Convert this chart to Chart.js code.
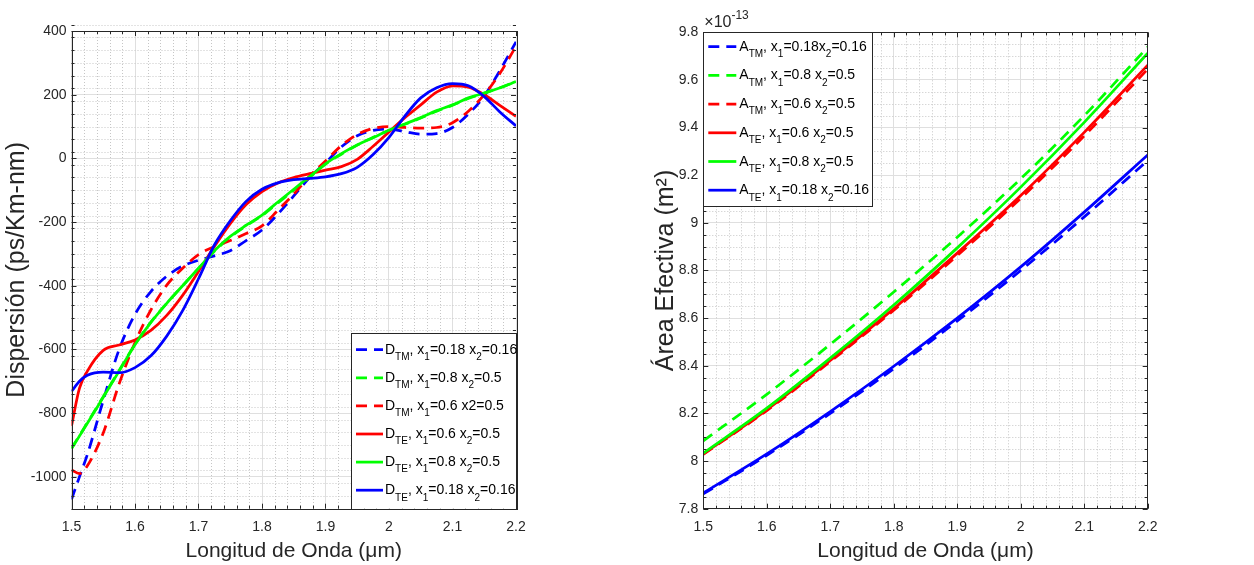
<!DOCTYPE html>
<html lang="es">
<head>
<meta charset="utf-8">
<title>Dispersión y Área Efectiva</title>
<script src="https://cdn.jsdelivr.net/npm/chart.js@4.4.0/dist/chart.umd.min.js"></script>
<style>
  html, body { margin: 0; padding: 0; background: #fff; }
  #wrap { position: relative; width: 1254px; height: 565px; overflow: hidden; }
  canvas { position: absolute; top: 0; }
  #cDisp { left: 0; }
  #cArea { left: 640px; }
</style>
</head>
<body>
<div id="wrap">
  <canvas id="cDisp" width="640" height="565"></canvas>
  <canvas id="cArea" width="614" height="565"></canvas>
</div>
<script>
const FONT = '"Liberation Sans", Arial, Helvetica, sans-serif';
const AXIS_COLOR = '#262626';
const BLUE = '#0000ff', GREEN = '#00ff00', RED = '#ff0000';
const DASH = [11, 7];

// Dispersion, ps/(km nm), vs wavelength in um
const lambdaD = [1.5, 1.5125, 1.525, 1.55, 1.575, 1.6, 1.625, 1.65, 1.675, 1.7, 1.725, 1.75, 1.775, 1.8, 1.825,
                 1.85, 1.875, 1.9, 1.925, 1.95, 1.975, 2.0, 2.025, 2.05, 2.075, 2.1, 2.125, 2.15, 2.175, 2.2];
const dTM_018 = [-1071, -1000, -930, -760, -600, -490, -418, -370, -338, -320, -306, -290, -258, -225, -175,
                 -118, -60, -14, 36, 71, 88, 92, 84, 76, 78, 97, 139, 196, 277, 366];
const dTM_08  = [-910, -870, -830, -748, -666, -584, -514, -455, -400, -346, -292, -247, -212, -180, -140,
                 -100, -60, -18, 13, 42, 66, 88, 107, 127, 148, 167, 188, 205, 222, 242];
const dTM_06  = [-978, -990, -965, -862, -708, -578, -476, -398, -345, -302, -277, -258, -236, -212, -163,
                 -112, -56, -8, 40, 75, 94, 100, 97, 95, 97, 112, 148, 200, 268, 352];
const dTE_06  = [-840, -722, -668, -603, -586, -570, -540, -493, -430, -355, -277, -205, -145, -104, -77,
                 -60, -48, -37, -26, -3, 38, 83, 128, 168, 208, 228, 224, 200, 166, 132];
const dTE_08  = [-912, -872, -832, -750, -668, -585, -515, -455, -400, -345, -290, -245, -210, -178, -137,
                 -97, -57, -17, 15, 42, 65, 88, 108, 128, 150, 168, 190, 205, 222, 241];
const dTE_018 = [-732, -700, -681, -671, -673, -657, -620, -558, -478, -378, -272, -196, -135, -97, -77,
                 -67, -63, -58, -48, -28, 12, 66, 133, 190, 222, 235, 228, 194, 145, 102];

// Effective area in units of 1e-13 m^2
const lambdaA = [1.5, 1.6, 1.7, 1.8, 1.9, 2.0, 2.1, 2.2];
const aTM_018 = [7.862, 8.024, 8.200, 8.388, 8.588, 8.800, 9.025, 9.262];
const aTM_08  = [8.085, 8.280, 8.490, 8.710, 8.940, 9.185, 9.450, 9.738];
const aTM_06  = [8.028, 8.212, 8.418, 8.633, 8.863, 9.103, 9.365, 9.645];
const aTE_06  = [8.030, 8.215, 8.422, 8.640, 8.873, 9.115, 9.380, 9.662];
const aTE_08  = [8.033, 8.222, 8.432, 8.655, 8.895, 9.150, 9.422, 9.712];
const aTE_018 = [7.866, 8.030, 8.208, 8.398, 8.600, 8.815, 9.045, 9.285];

// tick labels
const xTicks = [1.5, 1.6, 1.7, 1.8, 1.9, 2.0, 2.1, 2.2];
const dispTicks = [-1000, -800, -600, -400, -200, 0, 200, 400];
const areaTicks = [7.8, 8.0, 8.2, 8.4, 8.6, 8.8, 9.0, 9.2, 9.4, 9.6, 9.8];

function pts(xs, ys) {
    return xs.map((x, i) => ({ x: x, y: ys[i] }));
}

// evenly spaced minor positions between min and max, skipping the majors
function minorValues(min, max, step, majors) {
    const out = [];
    const n = Math.round((max - min) / step);
    for (let i = 0; i <= n; i++) {
        const v = +(min + i * step).toFixed(6);
        if (!majors.some(m => Math.abs(m - v) < 1e-9)) out.push(v);
    }
    return out;
}

function series(label, xs, ys, color, dashed, order) {
    return {
        label: label,
        data: pts(xs, ys),
        borderColor: color,
        backgroundColor: color,
        borderWidth: 2.75,
        borderDash: dashed ? DASH : [],
        pointRadius: 0,
        cubicInterpolationMode: 'monotone',
        order: order
    };
}

// "_{..}" subscript and "^{..}" superscript pieces
function texSegments(s) {
    const out = [];
    const re = /_\{([^}]*)\}|\^\{([^}]*)\}|([^_^]+)/g;
    let m;
    while ((m = re.exec(s))) {
        if (m[1] !== undefined) out.push({ t: m[1], s: 1 });
        else if (m[2] !== undefined) out.push({ t: m[2], s: -1 });
        else out.push({ t: m[3], s: 0 });
    }
    return out;
}

function drawTex(ctx, s, x, y, size, color) {
    ctx.fillStyle = color;
    ctx.textBaseline = 'alphabetic';
    ctx.textAlign = 'left';
    texSegments(s).forEach(seg => {
        const fs = seg.s ? Math.round(size * 0.72) : size;
        ctx.font = fs + 'px ' + FONT;
        const dy = seg.s === 1 ? size * 0.45 : (seg.s === -1 ? -size * 0.55 : 0);
        ctx.fillText(seg.t, x, y + dy);
        x += ctx.measureText(seg.t).width;
    });
    return x;
}

// dotted minor grid, inward ticks on all four sides and the closed box
const matlabAxes = {
    id: 'matlabAxes',
    beforeDatasetsDraw(chart, args, opts) {
        const { ctx, chartArea: a, scales: { x, y } } = chart;
        ctx.save();
        ctx.strokeStyle = '#c6c6c6';
        ctx.lineWidth = 1;
        ctx.setLineDash([1, 2]);
        ctx.beginPath();
        opts.xMinor.forEach(v => {
            const px = Math.round(x.getPixelForValue(v)) + 0.5;
            ctx.moveTo(px, a.top);
            ctx.lineTo(px, a.bottom);
        });
        opts.yMinor.forEach(v => {
            const py = Math.round(y.getPixelForValue(v)) + 0.5;
            ctx.moveTo(a.left, py);
            ctx.lineTo(a.right, py);
        });
        ctx.stroke();
        ctx.restore();
    },
    afterDatasetsDraw(chart, args, opts) {
        const { ctx, chartArea: a, scales: { x, y } } = chart;
        ctx.save();
        ctx.strokeStyle = AXIS_COLOR;
        ctx.lineWidth = 1;
        ctx.beginPath();
        const xs = opts.xMinor.map(v => [v, 3]).concat(opts.xMajor.map(v => [v, 5]));
        const ys = opts.yMinor.map(v => [v, 3]).concat(opts.yMajor.map(v => [v, 5]));
        xs.forEach(([v, len]) => {
            const px = Math.round(x.getPixelForValue(v)) + 0.5;
            ctx.moveTo(px, a.bottom); ctx.lineTo(px, a.bottom - len);
            ctx.moveTo(px, a.top); ctx.lineTo(px, a.top + len);
        });
        ys.forEach(([v, len]) => {
            const py = Math.round(y.getPixelForValue(v)) + 0.5;
            ctx.moveTo(a.left, py); ctx.lineTo(a.left + len, py);
            ctx.moveTo(a.right, py); ctx.lineTo(a.right - len, py);
        });
        ctx.stroke();
        ctx.strokeRect(Math.round(a.left) + 0.5, Math.round(a.top) + 0.5,
                       Math.round(a.right - a.left), Math.round(a.bottom - a.top));
        ctx.restore();
    }
};

// boxed legend with sub/superscripts drawn inside the plot area
const texLegend = {
    id: 'texLegend',
    afterDraw(chart, args, opts) {
        const { ctx, chartArea: a } = chart;
        const left = opts.corner === 'br' ? a.right - opts.width : a.left;
        const top = opts.corner === 'br' ? a.bottom - opts.height : a.top;
        ctx.save();
        ctx.fillStyle = '#ffffff';
        ctx.fillRect(left, top, opts.width, opts.height);
        ctx.strokeStyle = AXIS_COLOR;
        ctx.lineWidth = 1;
        ctx.strokeRect(Math.round(left) + 0.5, Math.round(top) + 0.5, Math.round(opts.width), Math.round(opts.height));
        chart.data.datasets.forEach((ds, i) => {
            const yy = top + opts.firstRow + i * opts.rowGap;
            ctx.strokeStyle = ds.borderColor;
            ctx.lineWidth = ds.borderWidth;
            ctx.setLineDash(ds.borderDash);
            ctx.beginPath();
            ctx.moveTo(left + opts.sample[0], yy);
            ctx.lineTo(left + opts.sample[1], yy);
            ctx.stroke();
            ctx.setLineDash([]);
            drawTex(ctx, ds.label, left + opts.textX, yy + 4, 14, '#000000');
        });
        if (opts.exponent) {
            drawTex(ctx, opts.exponent, a.left + 1, a.top - 5, 16, AXIS_COLOR);
        }
        ctx.restore();
    }
};

function fmt(v) {
    return String(Number(v.toFixed(2)));
}

function makeOptions(cfg) {
    return {
        responsive: false,
        maintainAspectRatio: false,
        animation: false,
        devicePixelRatio: 1,
        layout: { padding: { left: 0, top: cfg.top, right: cfg.right, bottom: 0 } },
        plugins: {
            legend: { display: false },
            tooltip: { enabled: false },
            matlabAxes: { xMajor: xTicks, xMinor: cfg.xMinor, yMajor: cfg.yTicks, yMinor: cfg.yMinor },
            texLegend: cfg.legend
        },
        scales: {
            x: {
                type: 'linear',
                min: 1.5,
                max: 2.2,
                afterBuildTicks: s => { s.ticks = xTicks.map(v => ({ value: v })); },
                afterFit: s => { s.height = 565 - cfg.bottom; },
                border: { display: false },
                grid: { color: '#dfdfdf', lineWidth: 1, drawTicks: false },
                ticks: {
                    autoSkip: false, maxRotation: 0, padding: 10, color: AXIS_COLOR,
                    font: { family: FONT, size: 14 }, callback: v => fmt(v)
                },
                title: {
                    display: true, text: 'Longitud de Onda (μm)', color: AXIS_COLOR,
                    font: { family: FONT, size: 21 }, padding: { top: 0, bottom: 1.4 }
                }
            },
            y: {
                type: 'linear',
                min: cfg.yMin,
                max: cfg.yMax,
                afterBuildTicks: s => { s.ticks = cfg.yTicks.map(v => ({ value: v })); },
                afterFit: s => { s.width = cfg.left; },
                border: { display: false },
                grid: { color: '#dfdfdf', lineWidth: 1, drawTicks: false },
                ticks: {
                    autoSkip: false, padding: 5, color: AXIS_COLOR,
                    font: { family: FONT, size: 14 }, callback: v => fmt(v)
                },
                title: {
                    display: true, text: cfg.yTitle, color: AXIS_COLOR,
                    font: { family: FONT, size: 25 }, padding: { top: cfg.titlePad, bottom: 0 }
                }
            }
        }
    };
}

const xMinor = minorValues(1.5, 2.2, 0.02, xTicks);

new Chart(document.getElementById('cDisp').getContext('2d'), {
    type: 'line',
    data: {
        datasets: [
            series('D_{TM}, x_{1}=0.18 x_{2}=0.16', lambdaD, dTM_018, BLUE, true, 5),
            series('D_{TM}, x_{1}=0.8 x_{2}=0.5', lambdaD, dTM_08, GREEN, true, 4),
            series('D_{TM}, x_{1}=0.6 x2=0.5', lambdaD, dTM_06, RED, true, 3),
            series('D_{TE}, x_{1}=0.6 x_{2}=0.5', lambdaD, dTE_06, RED, false, 2),
            series('D_{TE}, x_{1}=0.8 x_{2}=0.5', lambdaD, dTE_08, GREEN, false, 1),
            series('D_{TE}, x_{1}=0.18 x_{2}=0.16', lambdaD, dTE_018, BLUE, false, 0)
        ]
    },
    plugins: [matlabAxes, texLegend],
    options: makeOptions({
        left: 71.5, top: 31, right: 640 - 516, bottom: 508.7,
        yMin: -1100, yMax: 400, yTicks: dispTicks,
        yMinor: minorValues(-1100, 400, 40, dispTicks),
        xMinor: xMinor,
        yTitle: 'Dispersión (ps/Km-nm)', titlePad: 2,
        legend: { corner: 'br', width: 165, height: 176, firstRow: 17, rowGap: 28.1, sample: [5, 32], textX: 34 }
    })
});

new Chart(document.getElementById('cArea').getContext('2d'), {
    type: 'line',
    data: {
        datasets: [
            series('A_{TM}, x_{1}=0.18x_{2}=0.16', lambdaA, aTM_018, BLUE, true, 5),
            series('A_{TM}, x_{1}=0.8 x_{2}=0.5', lambdaA, aTM_08, GREEN, true, 4),
            series('A_{TM}, x_{1}=0.6 x_{2}=0.5', lambdaA, aTM_06, RED, true, 3),
            series('A_{TE}, x_{1}=0.6 x_{2}=0.5', lambdaA, aTE_06, RED, false, 2),
            series('A_{TE}, x_{1}=0.8 x_{2}=0.5', lambdaA, aTE_08, GREEN, false, 1),
            series('A_{TE}, x_{1}=0.18 x_{2}=0.16', lambdaA, aTE_018, BLUE, false, 0)
        ]
    },
    plugins: [matlabAxes, texLegend],
    options: makeOptions({
        left: 63.3, top: 32.3, right: 614 - 507.7, bottom: 508.7,
        yMin: 7.8, yMax: 9.8, yTicks: areaTicks,
        yMinor: minorValues(7.8, 9.8, 0.05, areaTicks),
        xMinor: xMinor,
        yTitle: 'Área Efectiva (m²)', titlePad: 11,
        legend: { corner: 'tl', width: 169, height: 173.5, firstRow: 14.4, rowGap: 28.7, sample: [5, 33], textX: 36,
                  exponent: '\u00d710^{-13}' }
    })
});
</script>
</body>
</html>
